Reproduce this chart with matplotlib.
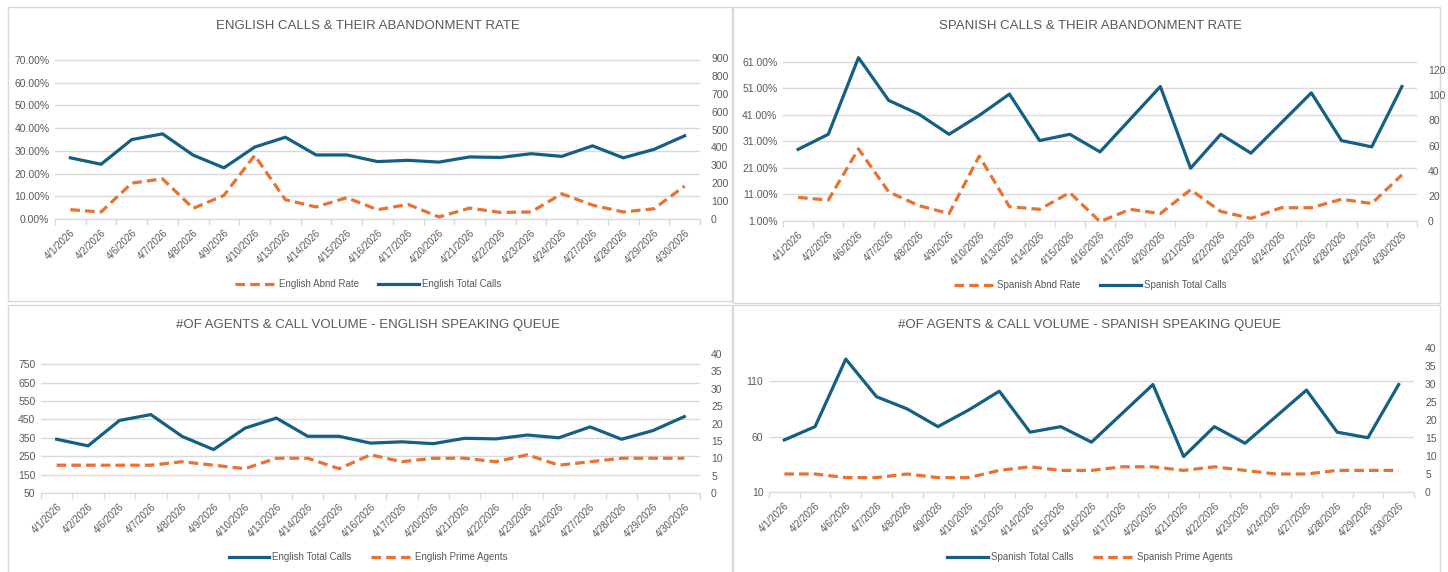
import matplotlib
matplotlib.use('Agg')
import matplotlib.pyplot as plt
from matplotlib.patches import Rectangle
from matplotlib.ticker import FuncFormatter
import numpy as np

plt.rcParams['font.family'] = ['Liberation Sans Narrow', 'Liberation Sans', 'DejaVu Sans']

W, H = 1448, 572

dates = ['4/1/2026', '4/2/2026', '4/6/2026', '4/7/2026', '4/8/2026', '4/9/2026',
         '4/10/2026', '4/13/2026', '4/14/2026', '4/15/2026', '4/16/2026', '4/17/2026',
         '4/20/2026', '4/21/2026', '4/22/2026', '4/23/2026', '4/24/2026', '4/27/2026',
         '4/28/2026', '4/29/2026', '4/30/2026']

eng_calls = [342, 306, 444, 476, 357, 286, 402, 457, 358, 358, 321, 328,
             318, 347, 344, 365, 350, 409, 342, 389, 465]
eng_abnd = [0.041, 0.031, 0.158, 0.177, 0.047, 0.104, 0.280, 0.085, 0.053, 0.094, 0.041,
            0.064, 0.009, 0.048, 0.029, 0.031, 0.111, 0.061, 0.031, 0.045, 0.145]
eng_agents = [8, 8, 8, 8, 9, 8, 7, 10, 10, 7, 11, 9, 10, 10, 9, 11, 8, 9, 10, 10, 10]

spa_calls = [57, 69, 130, 96, 85, 69, 84, 101, 64, 69, 55, 81,
             107, 42, 69, 54, 78, 102, 64, 59, 107]
spa_abnd = [0.099, 0.089, 0.282, 0.120, 0.068, 0.038, 0.255, 0.064, 0.054, 0.117, 0.0075,
            0.054, 0.038, 0.128, 0.046, 0.020, 0.060, 0.060, 0.092, 0.076, 0.184]
spa_agents = [5, 5, 4, 4, 5, 4, 4, 6, 7, 6, 6, 7, 7, 6, 7, 6, 5, 5, 6, 6, 6]

BLUE = '#156082'
ORANGE = '#E97132'
GRAY = '#595959'
GRID = '#D9D9D9'
LW = 2.3
DASH = (0, (3, 1.6))


def px_rect(l, t, r, b):
    return [l / W, 1 - b / H, (r - l) / W, (b - t) / H]


fig = plt.figure(figsize=(W / 100, H / 100), dpi=100)

# chart frames
for l, t, r, b in [(8, 7, 732, 301), (733, 7, 1440, 303), (8, 305, 732, 580), (733, 305, 1440, 580)]:
    fig.patches.append(Rectangle((l / W, 1 - b / H), (r - l) / W, (b - t) / H,
                                 transform=fig.transFigure, facecolor='none',
                                 edgecolor=GRID, linewidth=1.0, zorder=-1))


def make_chart(rect, title, title_xy, legend_xy,
               left_series, right_series, left_lim, left_step, left_fmt,
               right_lim, right_step, legend_order):
    ax = fig.add_axes(px_rect(*rect))
    ax2 = ax.twinx()
    x = np.arange(len(dates))
    handles = {}
    for axis, (vals, label, color, ls) in [(ax, left_series), (ax2, right_series)]:
        ln, = axis.plot(x, vals, color=color, lw=LW, linestyle=ls, label=label,
                        solid_joinstyle='round', dash_joinstyle='round',
                        dash_capstyle='butt', clip_on=False, zorder=3)
        handles[label] = ln

    ax.set_xlim(-0.5, len(dates) - 0.5)
    ax.set_ylim(*left_lim)
    ax.set_yticks(np.arange(left_lim[0], left_lim[1] + 1e-9, left_step))
    ax.yaxis.set_major_formatter(FuncFormatter(left_fmt))
    ax2.set_ylim(*right_lim)
    ax2.set_yticks(np.arange(right_lim[0], right_lim[1] + 1e-9, right_step))
    ax2.yaxis.set_major_formatter(FuncFormatter(lambda v, p: f'{v:.0f}'))

    ax.set_xticks(x)
    ax.set_xticklabels(dates, rotation=45, ha='right', rotation_mode='anchor',
                       fontsize=7, color=GRAY)
    ax.set_xticks(np.arange(-0.5, len(dates)), minor=True)
    ax.tick_params(axis='x', which='major', length=0, pad=6)
    ax.tick_params(axis='x', which='minor', length=4, color=GRID, width=1)
    ax.tick_params(axis='y', length=0, labelsize=7.5, labelcolor=GRAY, pad=4)
    ax2.tick_params(axis='y', length=0, labelsize=7.5, labelcolor=GRAY, pad=8)

    ax.grid(axis='y', color=GRID, linewidth=1.0)
    ax.set_axisbelow(True)
    for s in ['top', 'left', 'right']:
        ax.spines[s].set_visible(False)
        ax2.spines[s].set_visible(False)
    ax2.spines['bottom'].set_visible(False)
    ax.spines['bottom'].set_color(GRID)
    ax.spines['bottom'].set_zorder(1)
    ax.patch.set_visible(False)

    fig.text(title_xy[0] / W, 1 - title_xy[1] / H, title, ha='center', va='center',
             fontsize=9.5, color=GRAY)
    fig.legend([handles[k] for k in legend_order], legend_order, loc='center',
               bbox_to_anchor=(legend_xy[0] / W, 1 - legend_xy[1] / H), ncol=2,
               frameon=False, fontsize=7, labelcolor=GRAY, handlelength=4.2,
               columnspacing=2.0, handletextpad=0.3)


pct = lambda v, p: f'{v * 100:.2f}%'
num = lambda v, p: f'{v:.0f}'

make_chart((55, 58, 700, 219), 'ENGLISH CALLS & THEIR ABANDONMENT RATE', (368, 26), (368, 284),
           (eng_abnd, 'English Abnd Rate', ORANGE, DASH),
           (eng_calls, 'English Total Calls', BLUE, '-'),
           (0, 0.709), 0.1, pct, (0, 900), 100,
           ['English Abnd Rate', 'English Total Calls'])

make_chart((783, 54, 1417, 221), 'SPANISH CALLS & THEIR ABANDONMENT RATE', (1090, 26), (1090, 285),
           (spa_abnd, 'Spanish Abnd Rate', ORANGE, DASH),
           (spa_calls, 'Spanish Total Calls', BLUE, '-'),
           (0.01, 0.64), 0.1, pct, (0, 132.9), 20,
           ['Spanish Abnd Rate', 'Spanish Total Calls'])

make_chart((41, 354, 700, 493), '#OF AGENTS & CALL VOLUME - ENGLISH SPEAKING QUEUE', (368, 325), (368, 557),
           (eng_calls, 'English Total Calls', BLUE, '-'),
           (eng_agents, 'English Prime Agents', ORANGE, DASH),
           (50, 805), 100, num, (0, 40), 5,
           ['English Total Calls', 'English Prime Agents'])

make_chart((769, 348, 1414, 492), '#OF AGENTS & CALL VOLUME - SPANISH SPEAKING QUEUE', (1090, 325), (1090, 557),
           (spa_calls, 'Spanish Total Calls', BLUE, '-'),
           (spa_agents, 'Spanish Prime Agents', ORANGE, DASH),
           (10, 140), 50, num, (0, 40), 5,
           ['Spanish Total Calls', 'Spanish Prime Agents'])

fig.savefig('out.png', dpi=100, facecolor='white')
